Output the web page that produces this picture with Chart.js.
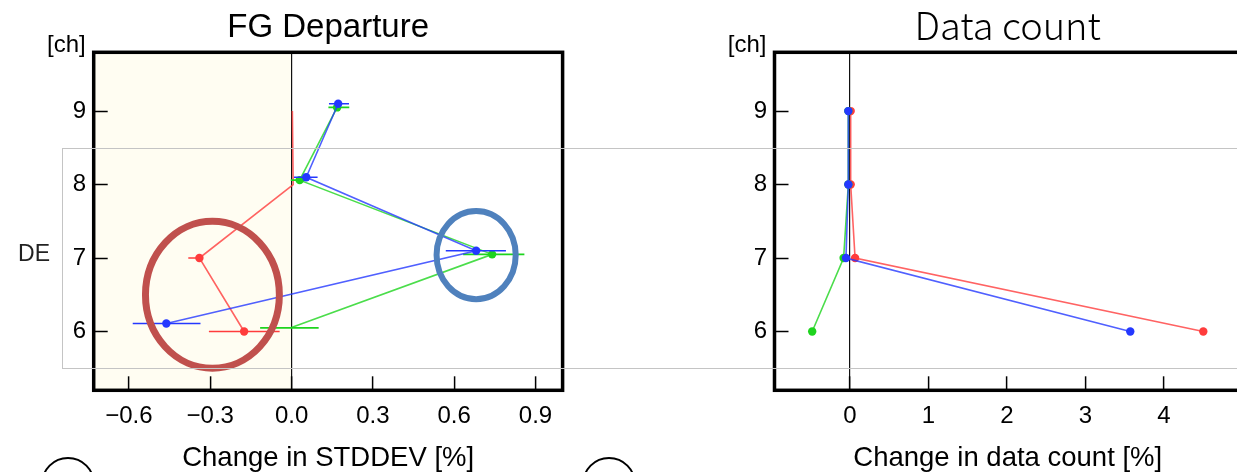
<!DOCTYPE html>
<html>
<head>
<meta charset="utf-8">
<script src="https://cdn.jsdelivr.net/npm/chart.js@4.4.1/dist/chart.umd.min.js"></script>
<style>
  body { margin: 0; width: 1237px; height: 472px; overflow: hidden; background: #fff; position: relative; }
  .box { position: absolute; top: 0; }
  #band { position: absolute; left: 62px; top: 148px; width: 1300px; height: 219px; border: 1.5px solid #c4c4c4; }
  .mark { position: absolute; top: 457px; width: 50px; height: 50px; border: 2px solid #000; border-radius: 50%; }
</style>
</head>
<body>
<div class="box" style="left:0"><canvas id="stddev" width="600" height="472"></canvas></div>
<div class="box" style="left:600px"><canvas id="count" width="660" height="472"></canvas></div>
<div id="band"></div>
<div class="mark" style="left:41px"></div>
<div class="mark" style="left:582px"></div>
<script>
const chTicks = [6, 7, 8, 9];
const stddevTicks = [-0.6, -0.3, 0.0, 0.3, 0.6, 0.9];
const countTicks = [0, 1, 2, 3, 4];
const channels = [9, 8, 7, 6];

// FG departure, change in STDDEV [%] (each experiment drawn a bit offset in ch)
const blueStdY  = [9.10, 8.10, 7.10, 6.11];
const blueStd   = [0.172, 0.054, 0.681, -0.462];
const blueStdLo = [0.138, 0.009, 0.569, -0.586];
const blueStdHi = [0.212, 0.096, 0.791, -0.336];

const greenStdY  = [9.05, 8.06, 7.05, 6.05];
const greenStd   = [0.168, 0.030, 0.740, -0.003];
const greenStdLo = [0.136, -0.003, 0.633, -0.116];
const greenStdHi = [0.213, 0.054, 0.859, 0.100];

const redStdY  = [9.00, 8.00, 7.00, 6.00];
const redStd   = [0.003, 0.006, -0.340, -0.175];
const redStdLo = [0.003, 0.006, -0.381, -0.305];
const redStdHi = [0.003, 0.006, -0.336, -0.044];

// change in data count [%]
const blueCount  = [-0.02, -0.02, -0.05, 3.57];
const greenCount = [-0.02, -0.02, -0.08, -0.48];
const redCount   = [0.01, 0.01, 0.066, 4.50];

const FONT = "'Liberation Sans', Arial, sans-serif";
const BLUE = '#2438ff', GREEN = '#1ed41e', RED = '#ff3c3c';

const pts = (xs, ys) => xs.map((x, i) => ({x: x, y: ys[i]}));
const bars = (lo, hi, ys) => lo.flatMap((l, i) => [{x: l, y: ys[i]}, {x: hi[i], y: ys[i]}, {x: NaN, y: NaN}]);

function series(data, color, radius) {
    return {
        data,
        showLine: true,
        borderColor: color + 'cc',
        backgroundColor: color,
        borderWidth: 1.6,
        pointRadius: radius,
        pointHoverRadius: radius,
        pointBorderWidth: 0
    };
}

function errbar(data, color) {
    return { data, showLine: true, borderColor: color, borderWidth: 1.6, pointRadius: 0, spanGaps: false };
}

function axes(xMin, xMax, xTicks, fmt, xTitle, leftWidth) {
    return {
        x: {
            type: 'linear',
            min: xMin,
            max: xMax,
            afterBuildTicks: s => { s.ticks = xTicks.map(value => ({value})); },
            afterFit: s => { s.height = 81.7; },
            border: { display: false },
            grid: {
                color: c => (c.tick && c.tick.value === 0) ? '#111' : 'rgba(0,0,0,0)',
                lineWidth: 1.2,
                tickColor: '#000',
                tickWidth: 1.5,
                tickLength: -14
            },
            ticks: { color: '#000', font: { family: FONT, size: 24 }, padding: 25.5, maxRotation: 0, autoSkip: false, callback: fmt },
            title: { display: true, text: xTitle, color: '#000', font: { family: FONT, size: 27.5 }, padding: { top: 0, bottom: -3 } }
        },
        y: {
            type: 'linear',
            min: 5.2,
            max: 9.8,
            afterBuildTicks: s => { s.ticks = chTicks.map(value => ({value})); },
            afterFit: s => { s.width = leftWidth; },
            border: { display: false },
            grid: { color: 'rgba(0,0,0,0)', tickColor: '#000', tickWidth: 1.5, tickLength: -14 },
            ticks: { color: '#000', font: { family: FONT, size: 24 }, padding: 21.5, autoSkip: false }
        }
    };
}

const frame = {
    id: 'frame',
    beforeDraw(chart, args, opts) {
        const {ctx, chartArea: a, scales: {x}} = chart;
        ctx.save();
        ctx.fillStyle = '#fff';
        ctx.fillRect(a.left, a.top, a.width, a.height);
        if (opts.shadeBelow !== undefined) {
            ctx.fillStyle = '#fffdf2';
            ctx.fillRect(a.left, a.top, x.getPixelForValue(opts.shadeBelow) - a.left, a.height);
        }
        ctx.restore();
    },
    afterDraw(chart, args, opts) {
        const {ctx, chartArea: a, scales: {x, y}} = chart;
        ctx.save();
        (opts.rings || []).forEach(r => {
            const cx = x.getPixelForValue(r.x), cy = y.getPixelForValue(r.y);
            const rx = Math.abs(x.getPixelForValue(r.x + r.rx) - cx);
            const ry = Math.abs(y.getPixelForValue(r.y + r.ry) - cy);
            ctx.beginPath();
            ctx.ellipse(cx, cy, rx, ry, 0, 0, Math.PI * 2);
            ctx.strokeStyle = r.color;
            ctx.lineWidth = r.width;
            ctx.stroke();
        });
        ctx.strokeStyle = '#000';
        ctx.lineWidth = 3.5;
        ctx.strokeRect(a.left, a.top, a.width, a.height);
        ctx.fillStyle = '#000';
        ctx.font = '24px ' + FONT;
        ctx.textAlign = 'right';
        ctx.textBaseline = 'middle';
        ctx.fillText('[ch]', a.left - 8, 45);
        (opts.labels || []).forEach(l => {
            ctx.textAlign = 'center';
            ctx.fillStyle = '#222';
            ctx.font = '23px ' + FONT;
            ctx.fillText(l.text, l.x, l.y);
        });
        ctx.restore();
    }
};

const fmtStd = v => (v < 0 ? '\u2212' : '') + Math.abs(v).toFixed(1);

new Chart(document.getElementById('stddev'), {
    type: 'scatter',
    data: {
        datasets: [
            series(pts(blueStd, blueStdY), BLUE, 4.2),
            errbar(bars(blueStdLo, blueStdHi, blueStdY), BLUE),
            series(pts(greenStd, greenStdY), GREEN, [4.2, 4.2, 4.2, 0]),
            errbar(bars(greenStdLo, greenStdHi, greenStdY), GREEN),
            series(pts(redStd, redStdY), RED, [0, 0, 4.2, 4.2]),
            errbar(bars(redStdLo, redStdHi, redStdY), RED)
        ]
    },
    options: {
        responsive: false,
        animation: false,
        layout: { padding: { left: 0, right: 37.4, top: 0, bottom: 0 } },
        scales: axes(-0.73, 1.0, stddevTicks, fmtStd, 'Change in STDDEV [%]', 93.7),
        plugins: {
            legend: { display: false },
            tooltip: { enabled: false },
            title: { display: true, fullSize: false, text: 'FG Departure', color: '#000', font: { family: FONT, size: 33, weight: 'normal' }, padding: { top: 8.5, bottom: 4.2 } },
            frame: {
                shadeBelow: 0,
                rings: [
                    { x: -0.292, y: 6.50, rx: 0.247, ry: 1.0, color: '#c0504d', width: 7 },
                    { x: 0.681, y: 7.04, rx: 0.146, ry: 0.60, color: '#4f81bd', width: 6 }
                ],
                labels: [{ text: 'DE', x: 34, y: 255 }]
            }
        }
    },
    plugins: [frame]
});

new Chart(document.getElementById('count'), {
    type: 'scatter',
    data: {
        datasets: [
            series(pts(blueCount, channels), BLUE, 4.2),
            series(pts(greenCount, channels), GREEN, 4.2),
            series(pts(redCount, channels), RED, 4.2)
        ]
    },
    options: {
        responsive: false,
        animation: false,
        layout: { padding: { left: 0, right: 19, top: 0, bottom: 0 } },
        scales: axes(-0.96, 4.98, countTicks, v => String(v), 'Change in data count [%]', 174.5),
        plugins: {
            legend: { display: false },
            tooltip: { enabled: false },
            title: { display: true, fullSize: false, text: 'Data count', color: '#000', font: { family: "'Noto Sans CJK JP', sans-serif", size: 38, weight: 300 }, padding: { top: 3, bottom: 3.7 } }
        }
    },
    plugins: [frame]
});
</script>
</body>
</html>
